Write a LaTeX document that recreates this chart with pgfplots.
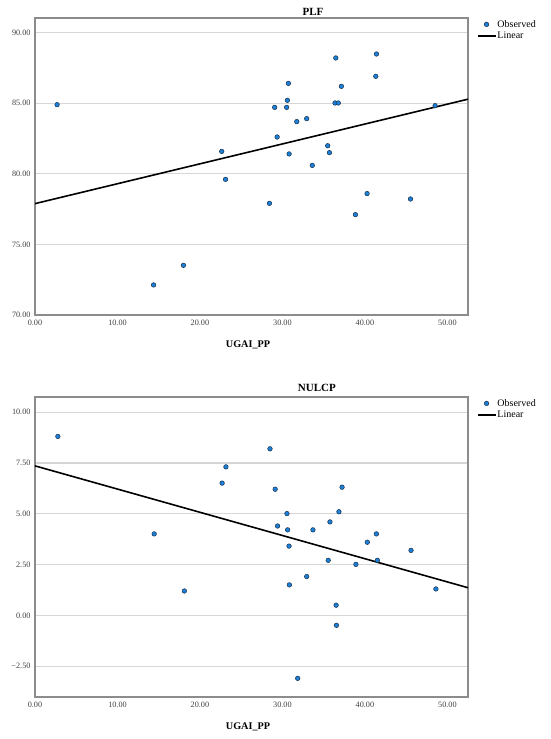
\documentclass[border=0pt]{standalone}
\usepackage{pgfplots}
\pgfplotsset{compat=1.18}
\usepackage{fontspec}
\setmainfont{Liberation Serif}
\definecolor{obs}{HTML}{1A80DA}
\definecolor{obsedge}{HTML}{1C2F45}
\definecolor{frame}{HTML}{8C8C8C}
\definecolor{gridc}{HTML}{D6D6D6}
\definecolor{tickc}{HTML}{404040}

\pgfplotstableread{
x y
2.68 84.90
14.38 72.13
18.00 73.52
22.64 81.59
23.10 79.61
28.43 77.91
29.06 84.71
29.36 82.61
30.51 84.71
30.60 85.21
30.72 86.41
30.81 81.41
31.74 83.70
32.94 83.91
33.62 80.60
35.49 81.99
35.70 81.50
36.38 85.02
36.77 85.02
36.47 88.21
37.15 86.20
38.85 77.11
40.26 78.60
41.32 86.91
41.40 88.49
45.53 78.22
48.51 84.83
}\plfdata

\pgfplotstableread{
x y
2.77 8.81
14.45 4.01
18.11 1.20
22.69 6.51
23.15 7.31
28.49 8.20
29.12 6.21
29.41 4.40
30.55 5.01
30.63 4.21
30.80 3.41
30.84 1.50
31.85 -3.10
32.94 1.91
33.70 4.21
35.55 2.71
35.76 4.60
36.51 0.50
36.55 -0.49
36.85 5.10
37.23 6.31
38.91 2.51
40.29 3.60
41.39 4.01
41.51 2.71
45.59 3.20
48.61 1.30
}\nulcpdata

\pgfplotsset{
  every axis title shift=0pt,
  spssaxis/.style={
    scale only axis,
    width=433pt,
    xmin=0, xmax=52.5,
    xtick={0,10,20,30,40,50},
    xticklabels={0.00,10.00,20.00,30.00,40.00,50.00},
    major tick length=0pt,
    axis line style={frame, line width=1.3pt},
    ymajorgrids,
    grid style={gridc, line width=1.1pt},
    tick label style={font=\fontsize{8.2}{9}\selectfont, text=tickc},
    xticklabel style={yshift=-2pt},
    yticklabel style={xshift=-1pt},
    title style={font=\bfseries\fontsize{11}{12}\selectfont, anchor=base, inner sep=0pt},
    xlabel={UGAI\_PP},
    xlabel style={font=\bfseries\fontsize{10.2}{12}\selectfont, at={(0.492,0)}, anchor=base, yshift=-32pt, inner sep=0pt},
    legend style={at={(1,1)}, anchor=north west, xshift=9pt, yshift=-1pt, draw=none, fill=none,
      font=\fontsize{10}{11}\selectfont, inner sep=0pt, row sep=1.5pt,
      nodes={inner sep=1pt}},
    legend cell align=left,
  },
  obsmark/.style={only marks, mark=*, mark size=2.3pt,
    mark options={fill=obs, draw=obsedge, line width=0.5pt}},
  fitline/.style={black, line width=1.6pt, no marks},
}

\begin{document}
\begin{tikzpicture}
\begin{axis}[spssaxis,
  at={(35pt,-315pt)}, anchor=south west,
  height=297pt,
  ymin=70, ymax=91.04,
  ytick={70,75,80,85,90},
  yticklabels={70.00,75.00,80.00,85.00,90.00},
  title={PLF},
  title style={at={(0.642,1)}, yshift=3pt},
]
\addplot[obsmark, forget plot] table[x=x,y=y] {\plfdata};
\addlegendimage{only marks, mark=*, mark size=2.3pt, mark options={fill=obs, draw=obsedge, line width=0.5pt},
  legend image code/.code={\draw[mark=*, mark size=2.3pt, mark options={fill=obs, draw=obsedge, line width=0.5pt}] plot coordinates {(0.3cm,0cm)};}}
\addlegendentry{Observed}
\addplot[fitline, forget plot] coordinates {(0,77.89) (52.5,85.29)};
\addlegendimage{black, line width=1.6pt,
  legend image code/.code={\draw[black, line width=1.6pt] (0cm,0cm) -- (0.62cm,0cm);}}
\addlegendentry{Linear}
\end{axis}

\begin{axis}[spssaxis,
  at={(35pt,-697pt)}, anchor=south west,
  height=300pt,
  ymin=-4.02, ymax=10.75,
  ytick={-2.5,0,2.5,5,7.5,10},
  yticklabels={−2.50,0.00,2.50,5.00,7.50,10.00},
  title={NULCP},
  title style={at={(0.651,1)}, yshift=6pt},
]
\addplot[obsmark, forget plot] table[x=x,y=y] {\nulcpdata};
\addlegendimage{only marks, mark=*, mark size=2.3pt, mark options={fill=obs, draw=obsedge, line width=0.5pt},
  legend image code/.code={\draw[mark=*, mark size=2.3pt, mark options={fill=obs, draw=obsedge, line width=0.5pt}] plot coordinates {(0.3cm,0cm)};}}
\addlegendentry{Observed}
\addplot[fitline, forget plot] coordinates {(0,7.36) (52.5,1.36)};
\addlegendimage{black, line width=1.6pt,
  legend image code/.code={\draw[black, line width=1.6pt] (0cm,0cm) -- (0.62cm,0cm);}}
\addlegendentry{Linear}
\end{axis}
\pgfresetboundingbox
\path[use as bounding box] (0pt,0pt) rectangle (550pt,-739pt);
\end{tikzpicture}
\end{document}
